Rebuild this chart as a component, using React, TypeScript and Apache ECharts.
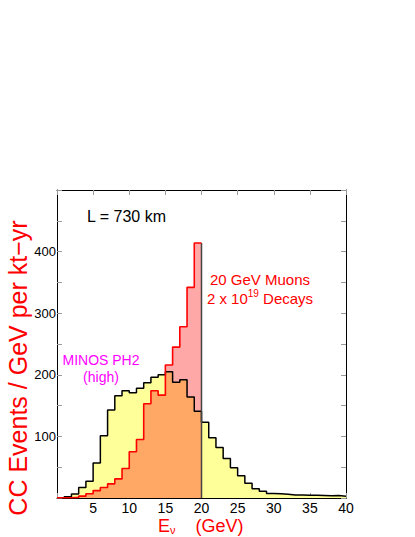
import React, { useEffect, useRef } from "react";
import * as echarts from "echarts";

// CC event spectrum per 1 GeV bin, starting at E = 0 GeV
const minosHigh = [
  0.3, 2, 6.5, 17, 27, 57, 101, 143, 166, 174,
  171, 178, 187, 196, 200, 205, 188, 192, 164, 141,
  123, 98, 82, 64, 49, 36, 24, 15, 11, 7.5,
  7, 6, 5, 5, 4.5, 4.5, 4, 3.5, 4, 3,
];
const muons20 = [
  0.3, 0.5, 1, 3, 7, 12, 17, 23, 31, 48,
  75, 95, 153, 174, 167, 216, 245, 278, 342, 414,
];
const binWidth = 1;
const xTickLabels = [5, 10, 15, 20, 25, 30, 35, 40];
const yTickLabels = [100, 200, 300, 400];

const FONT = "'Liberation Sans', Arial, Helvetica, sans-serif";

function stepPoints(values: number[]): number[][] {
  const pts: number[][] = [];
  values.forEach((v, i) => {
    pts.push([i * binWidth, v]);
    pts.push([(i + 1) * binWidth, v]);
  });
  return pts;
}

export default function App() {
  const ref = useRef<HTMLDivElement>(null);
  useEffect(() => {
    if (!ref.current) return;
    const chart = echarts.init(ref.current, null, { renderer: "svg" });
    const minosPts = stepPoints(minosHigh);
    const muonPts = stepPoints(muons20);
    const lastMuon = muons20[muons20.length - 1];
    const muonEnd = muons20.length * binWidth;
    const tick = { show: true, inside: true, length: 5, lineStyle: { color: "#999", width: 1 } };
    const axLine = { show: true, onZero: false, lineStyle: { color: "#000", width: 1 } };
    chart.setOption({
      animation: false,
      grid: { left: 57, top: 190, right: 69, bottom: 39, containLabel: false },
      xAxis: [
        {
          type: "value", min: 0, max: 40, interval: 5, position: "bottom",
          axisLine: axLine, axisTick: tick, splitLine: { show: false },
          axisLabel: {
            color: "#000", fontSize: 14, fontFamily: FONT, margin: 3, lineHeight: 14,
            formatter: (v: number) => (xTickLabels.includes(v) ? String(v) : ""),
          },
        },
        {
          type: "value", min: 0, max: 40, interval: 5, position: "top",
          axisLine: axLine, axisTick: tick, splitLine: { show: false }, axisLabel: { show: false },
        },
      ],
      yAxis: [
        {
          type: "value", min: 0, max: 500, interval: 50, position: "left",
          axisLine: axLine, axisTick: tick, splitLine: { show: false },
          axisLabel: {
            color: "#000", fontSize: 13, fontFamily: FONT, margin: 1,
            formatter: (v: number) => (yTickLabels.includes(v) ? String(v) : ""),
          },
        },
        {
          type: "value", min: 0, max: 500, interval: 50, position: "right",
          axisLine: axLine, axisTick: tick, splitLine: { show: false }, axisLabel: { show: false },
        },
      ],
      series: [
        {
          type: "line", data: minosPts, symbol: "none", silent: true, z: 1,
          lineStyle: { width: 0, opacity: 0 }, areaStyle: { color: "#ffff99", opacity: 1 },
        },
        {
          type: "line", data: muonPts, symbol: "none", silent: true, z: 2,
          lineStyle: { width: 0, opacity: 0 }, areaStyle: { color: "rgba(255,0,0,0.34)", opacity: 1 },
        },
        {
          type: "line", data: minosPts, symbol: "none", silent: true, z: 3,
          lineStyle: { color: "#000", width: 1.5 },
        },
        {
          type: "line", data: [[muonEnd, 0], [muonEnd, lastMuon]], symbol: "none", silent: true, z: 3,
          lineStyle: { color: "#444", width: 1.5 },
        },
        {
          type: "line", data: muonPts, symbol: "none", silent: true, z: 4,
          lineStyle: { color: "#ff0000", width: 1.6 },
        },
      ],
      graphic: [
        {
          type: "text", left: 87, top: 208, silent: true,
          style: { text: "L = 730 km", fill: "#000", fontSize: 16, fontFamily: FONT },
        },
        {
          type: "text", x: 260, y: 279, silent: true,
          style: { text: "20 GeV Muons", fill: "#ff0000", fontSize: 15, fontFamily: FONT, align: "center", verticalAlign: "middle" },
        },
        {
          type: "text", x: 260, y: 297, silent: true,
          style: {
            text: "{m|2 x 10}{s|19}{m| Decays}",
            align: "center", verticalAlign: "middle",
            rich: {
              m: { fill: "#ff0000", fontSize: 15, fontFamily: FONT, lineHeight: 18, verticalAlign: "bottom" },
              s: { fill: "#ff0000", fontSize: 10, fontFamily: FONT, lineHeight: 18, verticalAlign: "top" },
            },
          },
        },
        {
          type: "text", x: 101, y: 360, silent: true,
          style: { text: "MINOS PH2", fill: "#ff00ff", fontSize: 14, fontFamily: FONT, align: "center", verticalAlign: "middle" },
        },
        {
          type: "text", x: 101, y: 377, silent: true,
          style: { text: "(high)", fill: "#ff00ff", fontSize: 14, fontFamily: FONT, align: "center", verticalAlign: "middle" },
        },
        {
          type: "text", x: 158, y: 526, silent: true,
          style: {
            text: "{e|E}{n|ν}{e|    (GeV)}",
            align: "left", verticalAlign: "middle",
            rich: {
              e: { fill: "#ff0000", fontSize: 18, fontFamily: FONT, lineHeight: 18, verticalAlign: "middle" },
              n: { fill: "#ff0000", fontSize: 11, fontFamily: FONT, lineHeight: 18, verticalAlign: "bottom" },
            },
          },
        },
        {
          type: "text", x: 18, y: 368, rotation: Math.PI / 2, silent: true,
          style: {
            text: "CC Events / GeV per kt\u2212yr", fill: "#ff0000", fontSize: 25, fontFamily: FONT,
            align: "center", verticalAlign: "middle",
          },
        },
      ],
    });
    return () => chart.dispose();
  }, []);
  return (
    <div
      ref={ref}
      style={{ position: "absolute", left: 0, top: 0, width: 415, height: 537, background: "#fff" }}
    />
  );
}
